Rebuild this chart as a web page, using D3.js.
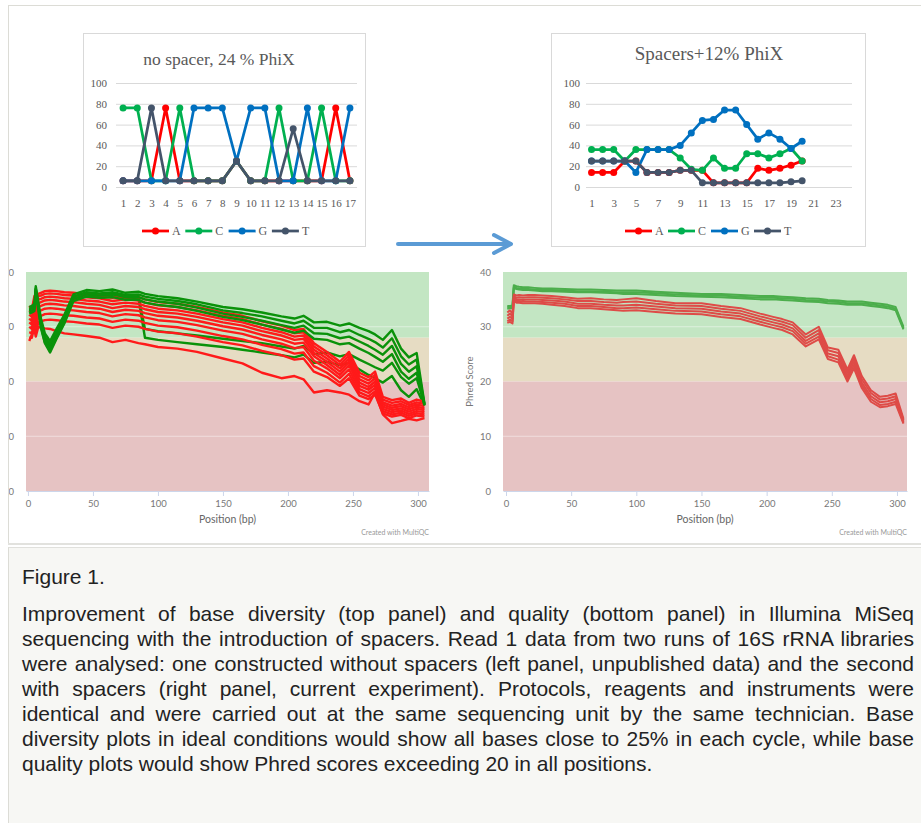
<!DOCTYPE html>
<html>
<head>
<meta charset="utf-8">
<script src="https://cdn.jsdelivr.net/npm/d3@7"></script>
<style>
  * { box-sizing: border-box; }
  html, body { margin: 0; width: 921px; height: 823px; background: #fff; overflow: hidden; }
  #fig { position: absolute; left: 0; top: 0; }
  #caption {
    position: absolute; left: 8px; top: 547px; width: 913px; height: 276px;
    background: #f7f7f4; border-top: 1px solid #e0e0dc; border-left: 1px solid #dcdcd6;
    font-family: "Liberation Sans Narrow", "Arial Narrow", "Liberation Sans", sans-serif;
    color: #222; font-size: 21px; line-height: 25px;
  }
  #caption .label { position: absolute; left: 13px; top: 16px; }
  #caption .body { position: absolute; left: 13px; top: 53px; width: 892px; }
  #caption .line { text-align: justify; text-align-last: justify; white-space: nowrap; }
  #caption .line.last { text-align-last: left; }
</style>
</head>
<body>
<svg id="fig" width="921" height="546"></svg>
<div id="caption">
  <div class="label">Figure 1.</div>
  <div class="body">
    <div class="line">Improvement of base diversity (top panel) and quality (bottom panel) in Illumina MiSeq</div>
    <div class="line">sequencing with the introduction of spacers. Read 1 data from two runs of 16S rRNA libraries</div>
    <div class="line">were analysed: one constructed without spacers (left panel, unpublished data) and the second</div>
    <div class="line">with spacers (right panel, current experiment). Protocols, reagents and instruments were</div>
    <div class="line">identical and were carried out at the same sequencing unit by the same technician. Base</div>
    <div class="line">diversity plots in ideal conditions would show all bases close to 25% in each cycle, while base</div>
    <div class="line last">quality plots would show Phred scores exceeding 20 in all positions.</div>
  </div>
</div>
<script>
  // ---- base diversity (% per cycle) ----
  const bases = ["A", "C", "G", "T"];
  const baseColors = ["#ff0000", "#00b050", "#0070c0", "#44546a"];

  const noSpacerCycles = [1, 2, 3, 4, 5, 6, 7, 8, 9, 10, 11, 12, 13, 14, 15, 16, 17];
  const noSpacerA = [6, 6, 6, 76, 6, 6, 6, 6, 25, 6, 6, 6, 6, 6, 6, 76, 6];
  const noSpacerC = [76, 76, 6, 6, 76, 6, 6, 6, 25, 6, 6, 76, 6, 6, 76, 6, 6];
  const noSpacerG = [6, 6, 6, 6, 6, 76, 76, 76, 25, 76, 76, 6, 6, 76, 6, 6, 76];
  const noSpacerT = [6, 6, 76, 6, 6, 6, 6, 6, 25, 6, 6, 6, 56, 6, 6, 6, 6];

  const spacerCycles = [1, 2, 3, 4, 5, 6, 7, 8, 9, 10, 11, 12, 13, 14, 15, 16, 17, 18, 19, 20, 21, 22, 23, 24];
  const spacerA = [14, 14, 14, 25, 25, 14, 14, 14, 16, 16, 16, 4, 4, 4, 4, 18, 16, 18, 21, 25];
  const spacerC = [36, 36, 36, 25, 36, 36, 36, 36, 28, 17, 16, 28, 18, 18, 32, 32, 28, 32, 37, 25];
  const spacerG = [25, 25, 25, 25, 14, 36, 36, 36, 40, 52, 64, 65, 74, 74, 60, 46, 52, 46, 37, 44];
  const spacerT = [25, 25, 25, 25, 25, 14, 14, 14, 16, 16, 4, 4, 4, 4, 4, 4, 4, 4, 5, 6];

  // ---- per base quality (Phred) ----
  const positions = [1, 3, 5, 6, 8, 10, 13, 17, 22, 28, 35, 45, 55, 65, 75, 85, 90, 100, 115, 130,
    150, 165, 180, 195, 205, 212, 220, 230, 240, 247, 255, 262, 267, 273, 280, 287, 293, 299, 305];
  const xTicks = [0, 50, 100, 150, 200, 250, 300];
  const yTicks = [0, 10, 20, 30, 40];
  const bands = [[28, 40, "#c3e6c3"], [20, 28, "#e6dcc3"], [0, 20, "#e6c3c3"]];

  // no spacer run: green (pass) and red (fail) samples
  const leftGreenLow = [
    [33.0, 33.2, 33.5, 36.8, 33.7, 30.6, 27.8, 26.2, 28.6, 31.4, 35.3, 36.0, 35.8, 36.0, 35.5, 35.6, 29.6, 29.2, 28.8, 28.4, 27.8, 27.4, 27.0, 26.4, 26.0, 26.5, 25.0, 25.3, 24.6, 25.0, 24.0, 23.2, 22.6, 22.0, 23.4, 20.8, 19.6, 20.6, 15.8],
    [32.6, 32.8, 33.1, 36.4, 33.2, 30.0, 27.2, 25.6, 28.0, 30.8, 34.9, 35.7, 35.5, 35.6, 35.1, 35.2, 28.0, 27.6, 27.2, 26.8, 26.3, 25.8, 25.3, 24.8, 24.4, 24.9, 23.4, 23.6, 23.0, 23.4, 22.2, 21.2, 20.6, 19.8, 21.0, 18.4, 17.2, 18.6, 15.6]
  ];
  const leftRed = [
    [33.8, 33.2, 35.6, 34.8, 36.0, 36.2, 36.5, 36.6, 36.5, 36.3, 36.2, 35.9, 35.7, 35.3, 35.6, 35.4, 35.0, 34.5, 34.2, 33.6, 32.6, 32.0, 31.0, 30.2, 29.4, 29.6, 27.0, 25.4, 23.6, 25.4, 21.6, 20.8, 21.8, 17.2, 16.6, 16.9, 16.1, 16.7, 16.3],
    [33.0, 32.6, 35.0, 34.0, 35.6, 35.7, 36.0, 36.1, 36.0, 35.8, 35.7, 35.4, 35.2, 34.7, 35.0, 34.8, 34.4, 33.9, 33.6, 33.0, 32.0, 31.4, 30.4, 29.6, 28.8, 29.0, 26.4, 24.8, 23.0, 24.8, 21.0, 20.2, 21.2, 16.7, 16.1, 16.4, 15.7, 16.2, 15.9],
    [32.2, 31.8, 34.4, 33.0, 35.0, 35.1, 35.4, 35.5, 35.4, 35.2, 35.1, 34.8, 34.6, 34.1, 34.4, 34.2, 33.8, 33.3, 33.0, 32.4, 31.4, 30.8, 29.8, 29.0, 28.2, 28.4, 25.8, 24.2, 22.4, 24.2, 20.4, 19.6, 20.6, 16.2, 15.6, 15.9, 15.3, 15.8, 15.5],
    [31.5, 31.0, 33.6, 32.2, 34.3, 34.5, 34.8, 34.9, 34.8, 34.6, 34.5, 34.2, 34.0, 33.4, 33.8, 33.6, 33.2, 32.7, 32.4, 31.8, 30.8, 30.2, 29.2, 28.4, 27.6, 27.8, 25.2, 23.6, 21.8, 23.6, 19.8, 19.0, 20.0, 15.8, 15.2, 15.5, 14.9, 15.4, 15.1],
    [30.8, 30.4, 33.0, 31.4, 33.6, 33.8, 34.1, 34.2, 34.1, 33.9, 33.8, 33.5, 33.3, 32.7, 33.1, 32.9, 32.5, 32.0, 31.7, 31.1, 30.1, 29.5, 28.5, 27.7, 26.9, 27.1, 24.6, 23.0, 21.2, 23.0, 19.2, 18.5, 19.4, 15.4, 14.8, 15.1, 14.5, 15.0, 14.8],
    [30.0, 29.6, 32.2, 30.6, 32.8, 33.0, 33.3, 33.4, 33.3, 33.1, 33.0, 32.7, 32.5, 31.9, 32.3, 32.1, 31.7, 31.2, 30.9, 30.3, 29.3, 28.7, 27.7, 26.9, 26.1, 26.3, 23.8, 22.4, 20.6, 22.2, 18.6, 17.9, 18.8, 15.0, 14.4, 14.7, 14.1, 14.6, 14.4],
    [29.0, 28.8, 31.2, 29.8, 31.8, 32.0, 32.3, 32.4, 32.3, 32.1, 32.0, 31.7, 31.5, 30.9, 31.3, 31.1, 30.7, 30.2, 29.9, 29.3, 28.3, 27.7, 26.7, 25.9, 25.1, 25.3, 22.8, 21.6, 19.8, 21.4, 18.0, 17.3, 18.2, 14.6, 14.0, 14.3, 13.7, 14.2, 14.0],
    [28.0, 28.0, 30.2, 29.0, 30.8, 31.0, 31.2, 31.3, 31.2, 31.0, 30.9, 30.6, 30.4, 29.8, 30.2, 30.0, 29.6, 29.1, 28.8, 28.2, 27.2, 26.6, 25.6, 24.8, 24.0, 24.2, 21.8, 20.8, 19.2, 20.6, 17.4, 16.8, 17.6, 14.2, 13.6, 13.9, 13.3, 13.8, 13.6],
    [27.4, 28.6, 29.4, 28.2, 30.0, 29.8, 29.7, 29.6, 29.2, 28.8, 28.6, 28.3, 28.0, 27.2, 27.6, 27.0, 26.8, 26.3, 26.0, 25.4, 24.2, 23.3, 21.6, 20.6, 21.0, 20.4, 18.0, 18.4, 18.0, 17.6, 16.4, 15.8, 18.0, 14.0, 12.4, 12.8, 13.2, 12.9, 13.3]
  ];
  const leftGreen = [
    [33.6, 33.8, 34.2, 37.4, 34.5, 31.5, 28.8, 27.4, 29.6, 32.2, 35.9, 36.7, 36.5, 36.8, 36.2, 36.4, 36.0, 35.6, 35.2, 34.6, 33.6, 33.2, 32.6, 31.9, 31.5, 32.0, 30.8, 30.9, 30.2, 30.6, 29.8, 29.2, 28.6, 27.6, 29.4, 26.0, 24.4, 25.2, 16.0],
    [33.2, 33.4, 33.8, 37.0, 34.0, 31.0, 28.2, 26.8, 29.0, 31.7, 35.5, 36.3, 36.1, 36.3, 35.8, 35.9, 35.5, 35.1, 34.7, 34.1, 33.0, 32.5, 31.9, 31.1, 30.6, 31.1, 29.8, 29.8, 29.0, 29.4, 28.5, 27.8, 27.2, 26.2, 27.9, 24.6, 23.1, 24.0, 15.8],
    [32.8, 33.0, 33.3, 36.6, 33.5, 30.4, 27.6, 26.0, 28.4, 31.2, 35.1, 35.9, 35.7, 35.9, 35.4, 35.4, 35.0, 34.6, 34.2, 33.5, 32.4, 31.8, 31.1, 30.3, 29.8, 30.2, 28.8, 28.7, 27.9, 28.2, 27.3, 26.5, 25.8, 24.9, 26.5, 23.2, 21.8, 22.8, 15.7],
    [32.4, 32.6, 32.9, 36.2, 33.0, 29.8, 27.0, 25.3, 27.8, 30.6, 34.7, 35.5, 35.3, 35.4, 34.9, 34.9, 34.4, 34.0, 33.6, 32.9, 31.8, 31.2, 30.4, 29.5, 28.9, 29.3, 27.8, 27.6, 26.8, 27.0, 26.0, 25.2, 24.5, 23.6, 25.0, 21.8, 20.5, 21.6, 15.6]
  ];

  // spacer run
  const rightGreen = [
    [33.8, 33.8, 33.9, 37.6, 37.4, 37.3, 37.2, 37.2, 37.1, 37.0, 37.0, 36.9, 36.8, 36.8, 36.7, 36.6, 36.6, 36.6, 36.4, 36.2, 36.0, 36.0, 35.8, 35.6, 35.6, 35.5, 35.4, 35.2, 35.1, 34.9, 34.8, 34.6, 34.6, 34.6, 34.4, 34.2, 34.0, 33.6, 30.0],
    [33.5, 33.6, 33.6, 37.3, 37.1, 37.0, 36.9, 36.9, 36.8, 36.7, 36.7, 36.6, 36.5, 36.5, 36.4, 36.3, 36.3, 36.3, 36.1, 35.9, 35.7, 35.7, 35.5, 35.3, 35.3, 35.2, 35.1, 34.9, 34.8, 34.6, 34.5, 34.3, 34.3, 34.3, 34.1, 33.9, 33.7, 33.3, 29.7],
    [33.3, 33.4, 33.4, 37.1, 36.9, 36.8, 36.7, 36.7, 36.6, 36.5, 36.5, 36.4, 36.3, 36.3, 36.2, 36.1, 36.0, 36.0, 35.8, 35.6, 35.5, 35.4, 35.2, 35.0, 35.0, 34.9, 34.8, 34.6, 34.5, 34.3, 34.2, 34.0, 34.0, 34.0, 33.8, 33.6, 33.4, 33.0, 29.5]
  ];
  const rightRed = [
    [32.6, 33.0, 32.4, 35.9, 35.7, 35.8, 35.7, 35.8, 35.8, 35.7, 35.6, 35.4, 35.1, 35.2, 35.0, 34.9, 35.0, 35.2, 34.7, 34.3, 34.3, 33.8, 33.4, 32.4, 31.8, 31.4, 30.8, 28.6, 30.0, 26.2, 25.8, 22.2, 24.8, 21.0, 18.4, 17.2, 17.4, 17.8, 13.2],
    [32.0, 32.4, 31.9, 35.6, 35.3, 35.4, 35.3, 35.4, 35.4, 35.3, 35.2, 35.0, 34.7, 34.7, 34.5, 34.4, 34.5, 34.6, 34.2, 33.9, 33.8, 33.3, 32.9, 31.9, 31.3, 30.9, 30.3, 28.0, 29.4, 25.7, 25.2, 21.6, 24.2, 20.4, 17.9, 16.7, 16.9, 17.3, 12.9],
    [31.5, 31.8, 31.5, 35.3, 35.0, 35.0, 34.9, 35.0, 35.0, 34.9, 34.8, 34.6, 34.2, 34.2, 34.0, 33.9, 33.9, 34.0, 33.7, 33.4, 33.3, 32.8, 32.4, 31.4, 30.8, 30.4, 29.7, 27.4, 28.8, 25.1, 24.6, 21.0, 23.6, 19.8, 17.3, 16.2, 16.4, 16.8, 12.7],
    [31.0, 31.3, 31.0, 35.0, 34.7, 34.7, 34.6, 34.6, 34.6, 34.5, 34.4, 34.2, 33.8, 33.8, 33.6, 33.4, 33.4, 33.5, 33.2, 32.9, 32.8, 32.3, 31.9, 30.9, 30.3, 29.9, 29.2, 26.9, 28.2, 24.6, 24.0, 20.5, 23.0, 19.3, 16.8, 15.7, 15.9, 16.3, 12.5],
    [30.7, 30.9, 30.6, 34.7, 34.4, 34.4, 34.3, 34.3, 34.3, 34.2, 34.0, 33.8, 33.4, 33.4, 33.2, 33.0, 32.9, 33.0, 32.7, 32.4, 32.3, 31.8, 31.4, 30.4, 29.8, 29.4, 28.6, 26.4, 27.7, 24.1, 23.5, 20.0, 22.4, 18.8, 16.3, 15.3, 15.5, 15.9, 12.3]
  ];

  const svg = d3.select("#fig");

  // outer frame of the figure
  svg.append("rect")
    .attr("x", 8.5).attr("y", 5.5).attr("width", 920).attr("height", 538)
    .attr("fill", "#fff").attr("stroke", "#dcdcd6");
  svg.append("line")
    .attr("x1", 8).attr("x2", 921).attr("y1", 544).attr("y2", 544)
    .attr("stroke", "#e2e2de").attr("stroke-width", 2);

  function diversityChart(o) {
    const g = svg.append("g");
    g.append("rect")
      .attr("x", o.box[0] + 0.5).attr("y", o.box[1] + 0.5)
      .attr("width", o.box[2]).attr("height", o.box[3])
      .attr("fill", "#fff").attr("stroke", "#d9d9d9");

    const x = d3.scalePoint().domain(o.cycles).range(o.xRange).padding(0.5);
    const y = d3.scaleLinear().domain([0, 100]).range([187, 83]);

    g.selectAll("line.grid")
      .data(y.ticks(5))
      .join("line")
      .attr("x1", o.xRange[0]).attr("x2", o.xRange[1])
      .attr("y1", d => y(d) + 0.5).attr("y2", d => y(d) + 0.5)
      .attr("stroke", "#d9d9d9").attr("stroke-width", 1);

    const ya = g.append("g")
      .attr("transform", `translate(${o.xRange[0]},0)`)
      .call(d3.axisLeft(y).ticks(5).tickSize(0).tickPadding(o.yPad));
    ya.select(".domain").remove();
    ya.selectAll("text").attr("font-family", "Liberation Serif").attr("font-size", 11).attr("fill", "#595959");

    const xa = g.append("g")
      .attr("transform", "translate(0,187)")
      .call(d3.axisBottom(x).tickValues(o.cycles.filter((c, i) => i % o.labelEvery === 0)).tickSize(0).tickPadding(12));
    xa.select(".domain").remove();
    xa.selectAll("text").attr("font-family", "Liberation Serif").attr("font-size", 11).attr("fill", "#595959");

    const line = d3.line().x((d, i) => x(o.cycles[i])).y(d => y(d));
    o.series.forEach((vals, s) => {
      g.append("path")
        .attr("d", line(vals))
        .attr("fill", "none")
        .attr("stroke", baseColors[s])
        .attr("stroke-width", 2.75)
        .attr("stroke-linejoin", "round");
      g.selectAll(null)
        .data(vals)
        .join("circle")
        .attr("cx", (d, i) => x(o.cycles[i]))
        .attr("cy", d => y(d))
        .attr("r", 3.5)
        .attr("fill", baseColors[s]);
    });

    g.append("text")
      .attr("x", o.titleX).attr("y", o.titleY)
      .attr("text-anchor", "middle")
      .attr("font-family", "Liberation Serif")
      .attr("font-size", o.titleSize)
      .attr("fill", "#595959")
      .text(o.title);

    const leg = g.append("g");
    bases.forEach((b, i) => {
      const lx = o.legendX + i * o.legendStep;
      leg.append("line")
        .attr("x1", lx).attr("x2", lx + 27).attr("y1", 231).attr("y2", 231)
        .attr("stroke", baseColors[i]).attr("stroke-width", 2.75);
      leg.append("circle").attr("cx", lx + 13.5).attr("cy", 231).attr("r", 3.5).attr("fill", baseColors[i]);
      leg.append("text")
        .attr("x", lx + 30).attr("y", 235)
        .attr("font-family", "Liberation Serif").attr("font-size", 12).attr("fill", "#595959")
        .text(b);
    });
  }

  diversityChart({
    box: [83, 33, 282, 213],
    xRange: [116, 357],
    yPad: 9,
    cycles: noSpacerCycles,
    labelEvery: 1,
    series: [noSpacerA, noSpacerC, noSpacerG, noSpacerT],
    title: "no spacer, 24 % PhiX",
    titleX: 219, titleY: 65, titleSize: 17.5,
    legendX: 142, legendStep: 43.3
  });

  diversityChart({
    box: [551, 33, 314, 213],
    xRange: [586, 852],
    yPad: 6,
    cycles: spacerCycles,
    labelEvery: 2,
    series: [spacerA, spacerC, spacerG, spacerT],
    title: "Spacers+12% PhiX",
    titleX: 709, titleY: 60, titleSize: 19,
    legendX: 625, legendStep: 43
  });

  // arrow between the two runs
  const arrow = svg.append("g")
    .attr("fill", "none").attr("stroke", "#5b9bd5")
    .attr("stroke-width", 4).attr("stroke-linecap", "round").attr("stroke-linejoin", "round");
  arrow.append("line").attr("x1", 398).attr("x2", 510).attr("y1", 244).attr("y2", 244);
  arrow.append("polyline").attr("points", "494,235 511,244 494,253");

  function qualityChart(o) {
    const g = svg.append("g");
    const x = d3.scaleLinear().domain(o.xDomain).range([o.left, o.right]);
    const y = d3.scaleLinear().domain([0, 40]).range([491, 272]);

    g.selectAll("rect.band")
      .data(bands)
      .join("rect")
      .attr("x", o.left).attr("width", o.right - o.left)
      .attr("y", d => y(d[1])).attr("height", d => y(d[0]) - y(d[1]))
      .attr("fill", d => d[2]);

    g.selectAll("line.grid")
      .data([10, 30])
      .join("line")
      .attr("x1", o.left).attr("x2", o.right)
      .attr("y1", d => y(d)).attr("y2", d => y(d))
      .attr("stroke", "#fff").attr("stroke-opacity", 0.45);

    const clipId = "clip" + o.id;
    g.append("clipPath").attr("id", clipId)
      .append("rect").attr("x", o.left).attr("y", 270).attr("width", o.right - o.left).attr("height", 221);

    const line = d3.line().x((d, i) => x(positions[i])).y(d => y(d));
    const lines = g.append("g").attr("clip-path", `url(#${clipId})`);
    o.layers.forEach(([group, color]) => {
      group.forEach(vals => {
        lines.append("path")
          .attr("d", line(vals))
          .attr("fill", "none")
          .attr("stroke", color)
          .attr("stroke-width", o.lineWidth)
          .attr("stroke-linejoin", "round");
      });
    });

    const xa = g.append("g")
      .attr("transform", "translate(0,491)")
      .call(d3.axisBottom(x).tickValues(xTicks).tickSize(5).tickSizeOuter(0).tickPadding(4));
    xa.select(".domain").attr("stroke", "#ccd6eb");
    xa.selectAll(".tick line").attr("stroke", "#ccd6eb");
    xa.selectAll("text").attr("font-family", "Lato").attr("font-size", 9.5).attr("fill", "#777");

    // the left panel was cropped, so only the last digit of its y labels shows
    const yClip = "yclip" + o.id;
    g.append("clipPath").attr("id", yClip)
      .append("rect").attr("x", 9).attr("y", 260).attr("width", 912).attr("height", 240);
    const ya = g.append("g")
      .attr("clip-path", `url(#${yClip})`)
      .append("g")
      .attr("transform", `translate(${o.left},0)`)
      .call(d3.axisLeft(y).tickValues(yTicks).tickSize(0).tickPadding(12));
    ya.select(".domain").remove();
    ya.selectAll("text").attr("font-family", "Lato").attr("font-size", 9.5).attr("fill", "#777");

    g.append("text")
      .attr("x", (o.left + o.right) / 2).attr("y", 523)
      .attr("text-anchor", "middle")
      .attr("font-family", "Lato").attr("font-size", 10.5).attr("fill", "#666")
      .text("Position (bp)");

    if (o.yTitle) {
      g.append("text")
        .attr("transform", `translate(${o.left - 30},${(272 + 491) / 2}) rotate(-90)`)
        .attr("text-anchor", "middle")
        .attr("font-family", "Lato").attr("font-size", 9.5).attr("fill", "#777")
        .text("Phred Score");
    }

    g.append("text")
      .attr("x", o.right).attr("y", 535)
      .attr("text-anchor", "end")
      .attr("font-family", "Lato").attr("font-size", 7).attr("fill", "#999")
      .text("Created with MultiQC");
  }

  qualityChart({
    id: "L", left: 26, right: 429, xDomain: [-1.5, 308.5], lineWidth: 2.4, yTitle: false,
    layers: [[leftGreenLow, "#0a920a"], [leftRed, "#ff1a1a"], [leftGreen, "#0a920a"]]
  });

  qualityChart({
    id: "R", left: 503, right: 907, xDomain: [-2.3, 307.7], lineWidth: 2, yTitle: true,
    layers: [[rightGreen, "#4cae4c"], [rightRed, "#de4b47"]]
  });
</script>
</body>
</html>
